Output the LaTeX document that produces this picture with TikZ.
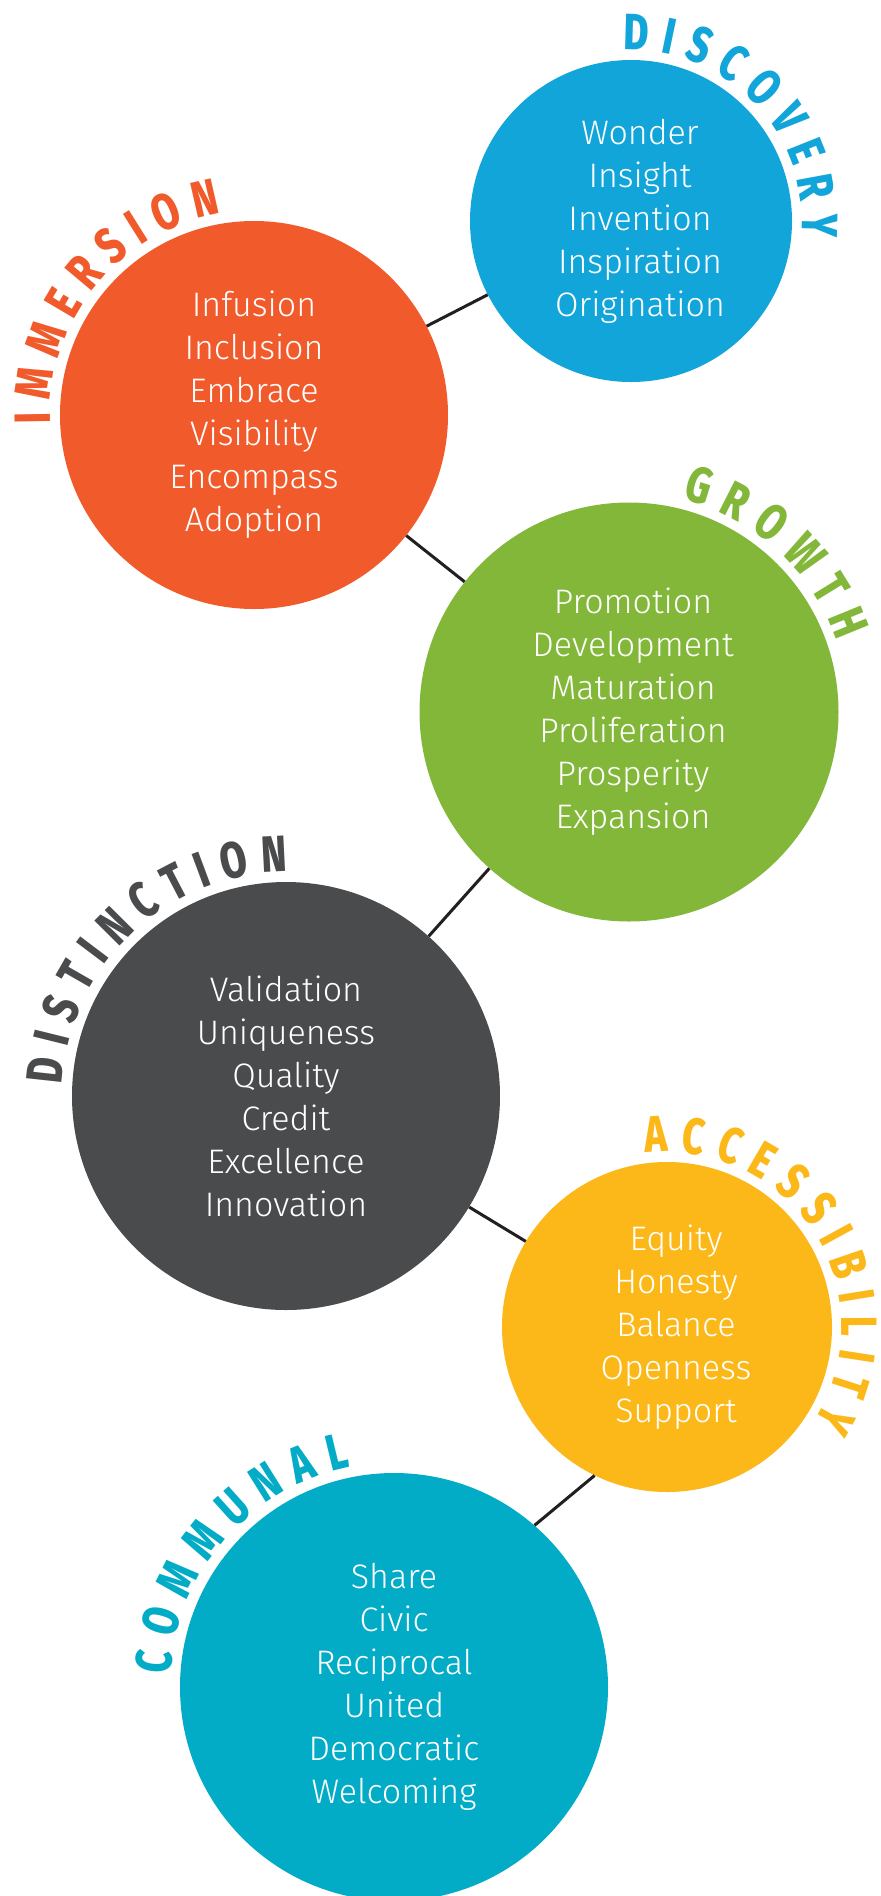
\documentclass[tikz,border=0pt]{standalone}
\usepackage{fontspec}
\IfFontExistsTF{Fira Sans Light}{\setmainfont{Fira Sans Light}}{\setmainfont{Fira Sans}}
\IfFontExistsTF{Fira Sans ExtraBold}
  {\newfontfamily\titlefont{Fira Sans ExtraBold}[FakeStretch=0.75]}
  {\newfontfamily\titlefont{Fira Sans}[FakeStretch=0.75, UprightFeatures={FakeBold=1.5}]}
\usetikzlibrary{calc}

\definecolor{discblue}{HTML}{12A5D9}
\definecolor{immorange}{HTML}{F15A2B}
\definecolor{growgreen}{HTML}{83B73A}
\definecolor{distgray}{HTML}{4A4B4D}
\definecolor{accyellow}{HTML}{FBB818}
\definecolor{commteal}{HTML}{02ACC7}
\definecolor{linkblack}{HTML}{231F20}

\tikzset{
  bubble/.style={circle, fill=#1, inner sep=0pt},
  words/.style={align=center, text=white, inner sep=0pt,
    font=\fontsize{34}{43}\selectfont},
  title/.style={anchor=base, inner sep=0pt, text=#1,
    font=\titlefont\fontsize{51}{51}\selectfont},
  link/.style={draw=linkblack, line width=3pt}
}

% letters of a heading set round a circle, one by one
\newdimen\titlew
\newcommand{\arctitle}[6]{%
  \gdef\arcpos{0}%
  \foreach \ch [count=\k] in {#5} {
    \pgfinterruptpicture
      \global\setbox1=\hbox{\titlefont\fontsize{51}{51}\selectfont\ch}%
    \endpgfinterruptpicture
    \titlew=\wd1
    \pgfmathsetmacro\ang{#3-deg((\arcpos+0.5*\titlew)/#2)}
    \node[title=#6, rotate=\ang-90] (#1-t\k) at ($(#1.center)+(\ang:#2)$) {\ch};
    \pgfmathsetmacro\nextpos{\arcpos+\titlew+#4}
    \xdef\arcpos{\nextpos}
  }%
}

\begin{document}
\begin{tikzpicture}[x=1pt, y=1pt]

  \useasboundingbox (0,0) rectangle (881,-1896);
  \fill[white] (0,0) rectangle (881,-1896);
  \clip (0,0) rectangle (881,-1896);

  \node[bubble=discblue, minimum size=322pt] (disc) at (631,-221) {};
  \node[bubble=immorange, minimum size=388pt] (imm) at (254,-415) {};
  \node[bubble=growgreen, minimum size=419pt] (grow) at (629,-712) {};
  \node[bubble=distgray, minimum size=428pt] (dist) at (286,-1096) {};
  \node[bubble=accyellow, minimum size=330pt] (acc) at (667,-1327) {};
  \node[bubble=commteal, minimum size=428pt] (comm) at (394,-1687) {};

  \node[words] (disc-words) at ($(disc)+(9,0)$)
    {Wonder\\Insight\\Invention\\Inspiration\\Origination};
  \node[words] (imm-words) at (imm)
    {Infusion\\Inclusion\\Embrace\\Visibility\\Encompass\\Adoption};
  \node[words] (grow-words) at ($(grow)+(4,0)$)
    {Promotion\\Development\\Maturation\\Proliferation\\Prosperity\\Expansion};
  \node[words] (dist-words) at (dist)
    {Validation\\Uniqueness\\Quality\\Credit\\Excellence\\Innovation};
  \node[words] (acc-words) at ($(acc)+(9,0)$)
    {Equity\\Honesty\\Balance\\Openness\\Support};
  \node[words] (comm-words) at (comm)
    {Share\\Civic\\Reciprocal\\United\\Democratic\\Welcoming};

  \draw[link] (imm) -- (disc);
  \draw[link] (imm) -- (grow);
  \draw[link] (grow) -- (dist);
  \draw[link] (dist) -- (acc);
  \draw[link] (acc.244) -- (comm.49);

  \arctitle{disc}{171}{92.5}{12}{D,I,S,C,O,V,E,R,Y}{discblue}
  \arctitle{imm}{204}{182.5}{12}{I,M,M,E,R,S,I,O,N}{immorange}
  \arctitle{grow}{219.5}{76}{13}{G,R,O,W,T,H}{growgreen}
  \arctitle{dist}{224}{177}{12}{D,I,S,T,I,N,C,T,I,O,N}{distgray}
  \arctitle{acc}{175}{97}{12}{A,C,C,E,S,S,I,B,I,L,I,T,Y}{accyellow}
  \arctitle{comm}{224}{176.7}{13.5}{C,O,M,M,U,N,A,L}{commteal}

\end{tikzpicture}
\end{document}
